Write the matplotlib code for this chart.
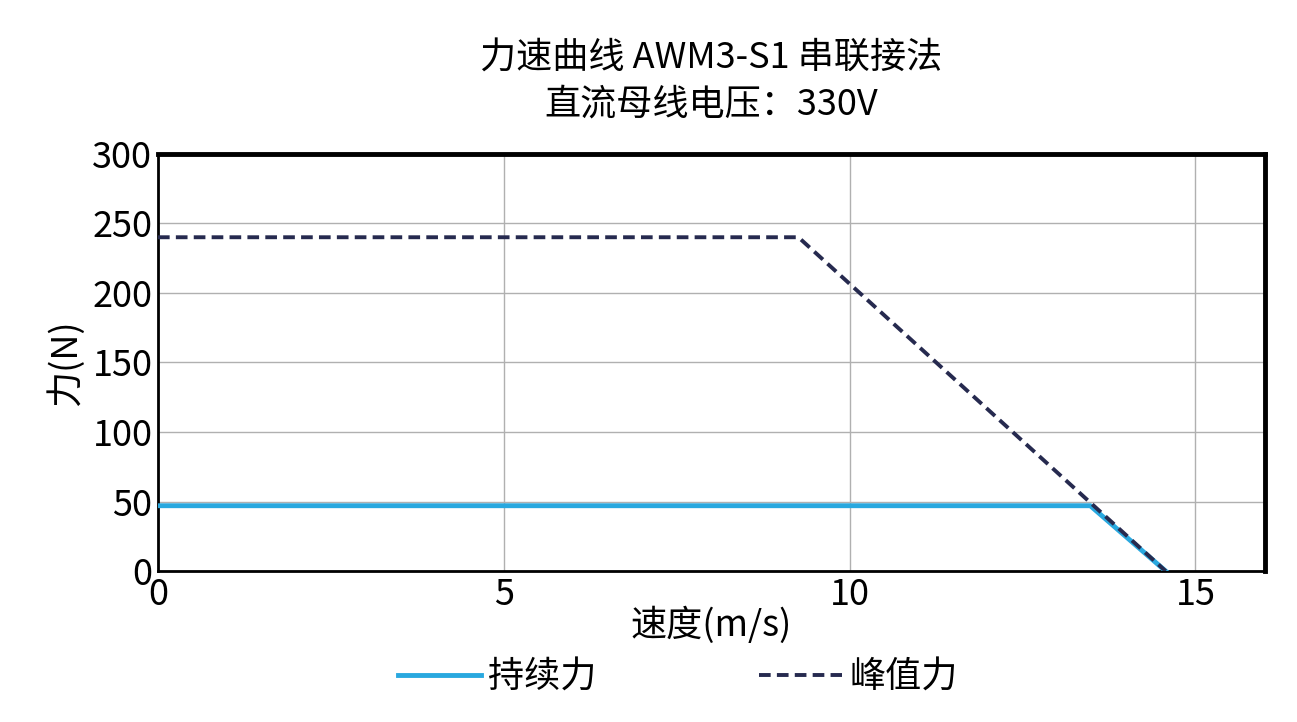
import matplotlib
matplotlib.use("Agg")
import matplotlib.pyplot as plt

plt.rcParams['font.family'] = ['Noto Sans CJK SC', 'DejaVu Sans']

cont_x = [0, 13.48, 14.57]
cont_y = [47, 47, 0]
peak_x = [0, 9.26, 14.57]
peak_y = [240, 240, 0]
xticks = [0, 5, 10, 15]
yticks = [0, 50, 100, 150, 200, 250, 300]

fig = plt.figure(figsize=(12.97, 7.22), dpi=100)
ax = fig.add_axes([0.1218, 0.209, 0.8532, 0.578])
ax.plot(cont_x, cont_y, color='#29a8df', lw=3.5, label='持续力', zorder=3)
ax.plot(peak_x, peak_y, color='#262a4f', lw=2.8, ls=(0, (3, 1.6)), label='峰值力', zorder=4)
ax.set_xlim(0, 16)
ax.set_ylim(0, 300)
ax.set_xticks(xticks)
ax.set_yticks(yticks)
ax.grid(True, color='#b0b0b0', lw=1)
ax.tick_params(labelsize=26, length=0, pad=4)
for s in ['top', 'right']:
    ax.spines[s].set_linewidth(3.5)
for s in ['left', 'bottom']:
    ax.spines[s].set_linewidth(2)
ax.set_xlabel('速度(m/s)', fontsize=26, labelpad=-4)
ax.set_ylabel('力(N)', fontsize=26, labelpad=6)
ax.set_title('力速曲线 AWM3-S1 串联接法\n直流母线电压：330V', fontsize=26, pad=28, linespacing=1.35)
ax.legend(loc='upper center', bbox_to_anchor=(0.47, -0.135), ncol=2, frameon=False,
          fontsize=26, handlelength=2.3, columnspacing=4.5, handletextpad=0.2)
fig.savefig('out.png')
